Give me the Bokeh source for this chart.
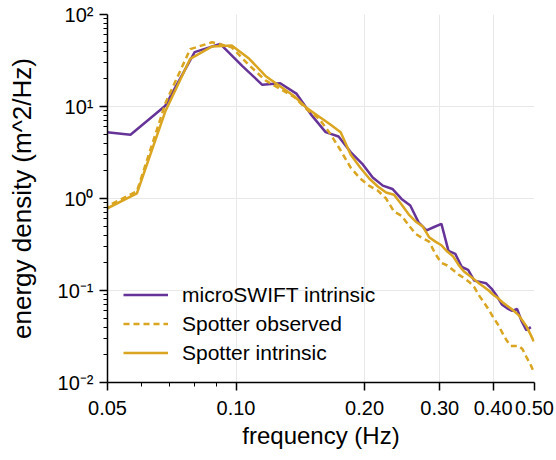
from bokeh.plotting import figure
from bokeh.models import Range1d, FixedTicker, Legend, LegendItem
from bokeh.embed import file_html
from bokeh.resources import INLINE

# microSWIFT intrinsic spectrum
micro_freq = [0.0449, 0.0566, 0.0683, 0.0800, 0.0918, 0.1035, 0.1152, 0.1269, 0.1387, 0.1504,
              0.1621, 0.1738, 0.1855, 0.1973, 0.2090, 0.2207, 0.2324, 0.2441, 0.2559, 0.2676,
              0.2793, 0.2910, 0.3027, 0.3144, 0.3262, 0.3379, 0.3496, 0.3613, 0.3730, 0.3848,
              0.3965, 0.4082, 0.4199, 0.4316, 0.4434, 0.4551, 0.4668, 0.4785, 0.4902]
micro_energy = [5.5, 4.93, 10.2, 39, 48, 27.5, 17.2, 17.9, 13.7, 8.0,
                5.26, 4.72, 3.2, 2.4, 1.69, 1.38, 1.27, 0.99, 0.84, 0.55,
                0.45, 0.49, 0.53, 0.27, 0.25, 0.18, 0.168, 0.128, 0.124, 0.12,
                0.105, 0.087, 0.07, 0.064, 0.06, 0.063, 0.046, 0.037, 0.04]

# Spotter spectra
spot_freq = [0.0488, 0.0586, 0.0684, 0.0781, 0.0879, 0.0977, 0.1074, 0.1172, 0.1270, 0.1367,
             0.1465, 0.1563, 0.1660, 0.1758, 0.1855, 0.1953, 0.2051, 0.2148, 0.2246, 0.2344,
             0.2441, 0.2539, 0.2637, 0.2734, 0.2832, 0.2930, 0.3027, 0.3125, 0.3223, 0.3320,
             0.3418, 0.3516, 0.3613, 0.3711, 0.3809, 0.3906, 0.4004, 0.4102, 0.4199, 0.4297,
             0.4395, 0.4492, 0.4590, 0.4688, 0.4785, 0.4883, 0.4980]
spot_observed = [0.78, 1.2, 11, 42, 50, 44, 28, 19.2, 15.5, 12.7,
                 9.3, 7.4, 5.1, 3.33, 2.17, 1.65, 1.37, 1.22, 1.0, 0.72,
                 0.65, 0.51, 0.41, 0.37, 0.34, 0.25, 0.2, 0.187, 0.167, 0.149,
                 0.137, 0.124, 0.109, 0.088, 0.074, 0.062, 0.051, 0.043, 0.035, 0.029,
                 0.025, 0.025, 0.025, 0.023, 0.019, 0.016, 0.013]
spot_intrinsic = [0.74, 1.14, 9.0, 33, 45, 46, 33, 21.5, 16.5, 13.0,
                  9.6, 7.8, 6.4, 5.26, 3.0, 2.17, 1.65, 1.35, 1.16, 1.1,
                  0.86, 0.67, 0.56, 0.50, 0.38, 0.34, 0.31, 0.265, 0.235, 0.19,
                  0.161, 0.146, 0.132, 0.119, 0.109, 0.1, 0.09, 0.083, 0.075, 0.069,
                  0.064, 0.059, 0.054, 0.047, 0.041, 0.034, 0.028]

x_ticks = [0.05, 0.1, 0.2, 0.3, 0.4, 0.5]
x_tick_labels = ["0.05", "0.10", "0.20", "0.30", "0.40", "0.50"]
x_minor = [0.06, 0.07, 0.08, 0.09]
y_ticks = [0.01, 0.1, 1, 10, 100]
y_tick_labels = ["10\u207b\u00b2", "10\u207b\u00b9", "10\u2070", "10\u00b9", "10\u00b2"]
y_minor = [m * 10.0 ** e for e in range(-2, 2) for m in range(2, 10)]

series_names = ["microSWIFT intrinsic", "Spotter observed", "Spotter intrinsic"]

PURPLE = "#663399"
GOLD = "#DAA520"
FONT = "Liberation Sans"

p = figure(width=556, height=460, x_axis_type="log", y_axis_type="log",
           x_range=Range1d(0.05, 0.5), y_range=Range1d(0.01, 100),
           output_backend="svg", toolbar_location=None,
           min_border_left=107, min_border_right=22, min_border_top=14, min_border_bottom=78)

p.outline_line_color = None
p.background_fill_color = "white"

r1 = p.line(micro_freq, micro_energy, line_color=PURPLE, line_width=2.5)
r2 = p.line(spot_freq, spot_observed, line_color=GOLD, line_width=2.5, line_dash="6 4")
r3 = p.line(spot_freq, spot_intrinsic, line_color=GOLD, line_width=2.5)

# axes
xa = p.xaxis[0]
xa.ticker = FixedTicker(ticks=x_ticks, minor_ticks=x_minor)
xa.major_label_overrides = dict(zip(x_ticks, x_tick_labels))
ya = p.yaxis[0]
ya.ticker = FixedTicker(ticks=y_ticks, minor_ticks=y_minor)
ya.major_label_overrides = dict(zip(y_ticks, y_tick_labels))

for ax in (xa, ya):
    ax.axis_line_color = "black"
    ax.axis_line_width = 1.5
    ax.major_tick_line_color = "black"
    ax.major_tick_line_width = 1.5
    ax.minor_tick_line_color = "black"
    ax.minor_tick_line_width = 1
    ax.major_tick_in = 0
    ax.major_tick_out = 8
    ax.minor_tick_in = 0
    ax.minor_tick_out = 4
    ax.major_label_text_font = FONT
    ax.major_label_text_font_size = "20px"
    ax.major_label_text_color = "black"
    ax.axis_label_text_font = FONT
    ax.axis_label_text_font_style = "normal"
    ax.axis_label_text_color = "black"

xa.axis_label = "frequency (Hz)"
ya.axis_label = "energy density (m^2/Hz)"
xa.axis_label_text_font_size = "24px"
ya.axis_label_text_font_size = "26px"
xa.major_label_standoff = 10
xa.axis_label_standoff = 4
ya.major_label_standoff = 6
ya.axis_label_standoff = 18

for g in (p.xgrid[0], p.ygrid[0]):
    g.grid_line_color = "#e8e8e8"
    g.grid_line_width = 1
p.xgrid[0].ticker = xa.ticker
p.ygrid[0].ticker = ya.ticker

legend = Legend(items=[LegendItem(label=series_names[0], renderers=[r1]),
                       LegendItem(label=series_names[1], renderers=[r2]),
                       LegendItem(label=series_names[2], renderers=[r3])],
                location=(16, 17), orientation="vertical")
legend.border_line_alpha = 0
legend.background_fill_alpha = 0
legend.padding = 0
legend.margin = 0
legend.spacing = 4
legend.glyph_width = 45
legend.glyph_height = 25
legend.label_height = 25
legend.label_standoff = 14
legend.label_text_font = FONT
legend.label_text_font_size = "21px"
legend.label_text_color = "black"
p.add_layout(legend, "center")

open("out.html", "w").write(file_html(p, INLINE))
